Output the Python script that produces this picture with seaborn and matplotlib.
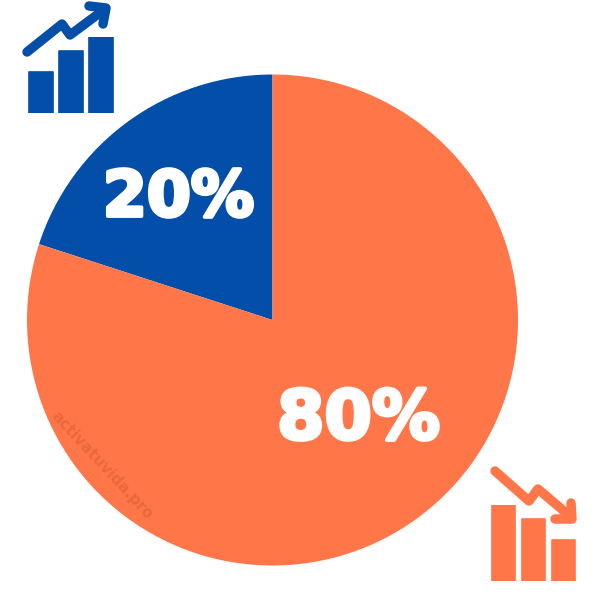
import matplotlib
matplotlib.use("Agg")
import matplotlib.pyplot as plt
import matplotlib.patheffects as pe
import pandas as pd
import seaborn as sns

sns.set_theme(style="white")
plt.rcParams["font.family"] = ["DejaVu Sans"]

segments = ["Blue", "Orange"]
shares = [20, 80]
share_labels = ["20%", "80%"]
BLUE = "#034EA9"
ORANGE = "#FF7648"

up_bars = [41, 62, 76]
down_bars = [76, 62, 41]
bar_ids = ["a", "b", "c"]

up_line_x = [27, 62, 70, 105]
up_line_y = [52, 24, 35, 9]
up_head_x = [89, 106, 103]
up_head_y = [6, 8, 24]
down_line_x = [495, 529, 538, 571]
down_line_y = [471, 501, 489, 517]
down_head_x = [555, 572, 571]
down_head_y = [519, 519, 503]

W = 600.0


def rect(x0, y0, x1, y1):
    return [x0 / W, 1 - y1 / W, (x1 - x0) / W, (y1 - y0) / W]


fig = plt.figure(figsize=(6, 6), dpi=100, facecolor="white")

# pie
pie_ax = fig.add_axes(rect(27, 74.5, 518, 565.5))
pie_ax.pie(shares, colors=[BLUE, ORANGE], startangle=90, counterclock=True,
           radius=1, wedgeprops={"linewidth": 0})
pie_ax.set_xlim(-1, 1)
pie_ax.set_ylim(-1, 1)


def bars(box, values, color):
    ax = fig.add_axes(rect(*box))
    df = pd.DataFrame({"id": bar_ids, "v": values})
    sns.barplot(data=df, x="id", y="v", color=color, saturation=1, width=0.78, ax=ax)
    for p in ax.patches:
        p.set_edgecolor(color)
        p.set_linewidth(1.2)
        p.set_joinstyle("round")
    ax.set_xlim(-0.42, 2.42)
    ax.set_ylim(0, max(values))
    ax.axis("off")


bars((28, 37, 114, 113), up_bars, BLUE)
bars((491, 505, 576, 581), down_bars, ORANGE)

# overlay in pixel coordinates
ov = fig.add_axes([0, 0, 1, 1], facecolor="none")
ov.set_xlim(0, W)
ov.set_ylim(W, 0)
ov.axis("off")


def trend(xs, ys, color):
    sns.lineplot(x=xs, y=ys, sort=False, estimator=None, color=color, linewidth=6.8,
                 solid_capstyle="round", solid_joinstyle="round", ax=ov)


trend(up_line_x, up_line_y, BLUE)
trend(up_head_x, up_head_y, BLUE)
trend(down_line_x, down_line_y, ORANGE)
trend(down_head_x, down_head_y, ORANGE)

stroke = [pe.withStroke(linewidth=2.8, foreground="white")]
ov.text(178.5, 192.5, share_labels[0], color="white", fontsize=45.5, fontweight="bold",
        ha="center", va="center_baseline", path_effects=stroke)
ov.text(358.5, 413, share_labels[1], color="white", fontsize=49, fontweight="bold",
        ha="center", va="center_baseline", path_effects=stroke)
ov.text(102, 465, "activatuvida.pro", color="#E5673C", alpha=0.85, fontsize=11,
        fontweight="bold", rotation=-47, rotation_mode="anchor", ha="center", va="center")

ov.set_xlim(0, W)
ov.set_ylim(W, 0)
fig.savefig("out.png", dpi=100, facecolor="white")
